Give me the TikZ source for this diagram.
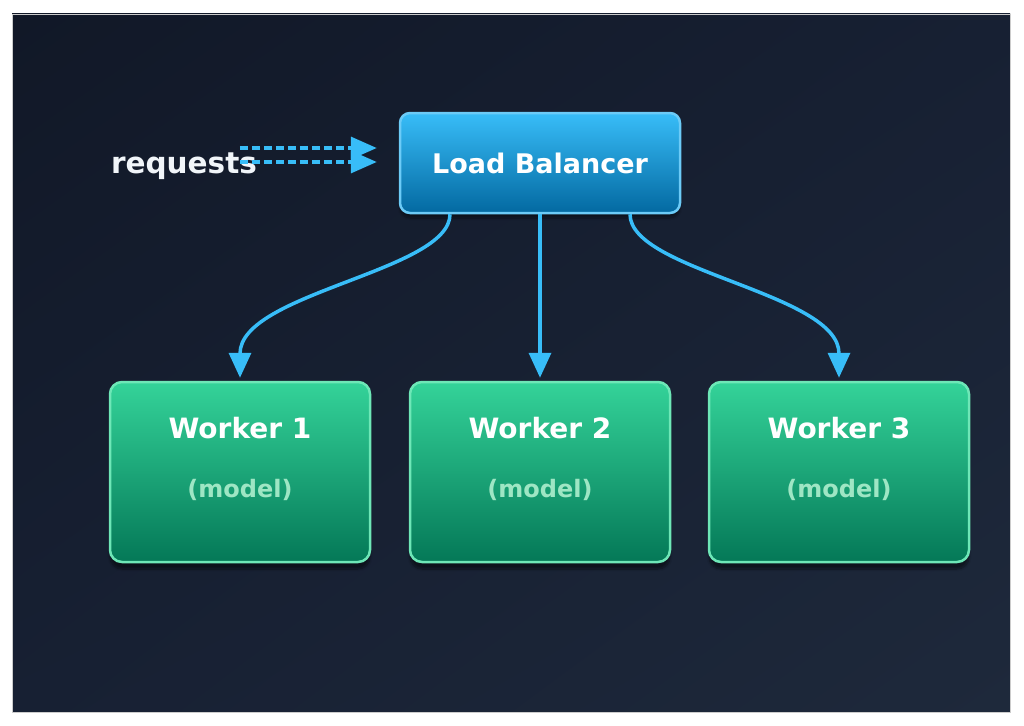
\documentclass[tikz,border=0pt]{standalone}
\usepackage{fontspec}
\setmainfont{DejaVu Sans}
\usetikzlibrary{arrows.meta,positioning,calc,shadings,shadows.blur}
\definecolor{bgtop}{HTML}{111827}
\definecolor{bgmid}{HTML}{172033}
\definecolor{bgbot}{HTML}{1E293B}
\definecolor{lbtop}{HTML}{38BDF8}
\definecolor{lbbot}{HTML}{0369A1}
\definecolor{lbline}{HTML}{6CCBF7}
\definecolor{wktop}{HTML}{34D399}
\definecolor{wkbot}{HTML}{047857}
\definecolor{wkline}{HTML}{6EE7B7}
\definecolor{modeltext}{HTML}{9EE6C4}
\definecolor{flowcol}{HTML}{38BDF8}
\definecolor{reqtext}{HTML}{F1F5F9}

\begin{document}
\begin{tikzpicture}[x=1pt, y=-1pt, every node/.style={font=\bfseries}]
\tikzset{lbbox/.style={draw=lbline, line width=2.5pt, rounded corners=10pt, top color=lbtop, bottom color=lbbot, minimum width=280pt, minimum height=100pt, text=white, font=\bfseries\fontsize{27}{32}\selectfont, blur shadow={shadow xshift=0pt, shadow yshift=-5pt, shadow opacity=40, shadow blur steps=10}}}
\tikzset{workbox/.style={draw=wkline, line width=2.5pt, rounded corners=12pt, top color=wktop, bottom color=wkbot, minimum width=260pt, minimum height=180pt, blur shadow={shadow xshift=0pt, shadow yshift=-7pt, shadow opacity=45, shadow blur steps=10}}}
\tikzset{worktitle/.style={text=white, font=\bfseries\fontsize{28}{32}\selectfont}}
\tikzset{worksub/.style={text=modeltext, font=\bfseries\fontsize{24}{28}\selectfont}}
\tikzset{flow/.style={draw=flowcol, line width=3.5pt, -{Triangle[length=25pt, width=22pt]}, shorten >=3pt}}
\tikzset{reqflow/.style={draw=flowcol, line width=3.5pt, dash pattern=on 8pt off 4pt, -{Triangle[length=26pt, width=22pt]}}}
\useasboundingbox (0,0) rectangle (1024,725);
% background panel
\shade[upper left=bgtop, upper right=bgmid, lower left=bgmid, lower right=bgbot] (12,14) rectangle (1010,712);
\draw[gray!40, line width=0.6pt] (12,14) rectangle (1010,712);
% nodes
\node[lbbox] (lb) at (540,163) {Load Balancer};
\node[workbox] (w1) at (240,472) {};
\node[workbox] (w2) at (540,472) {};
\node[workbox] (w3) at (839,472) {};
\foreach \w/\n in {w1/1, w2/2, w3/3} {
  \node[worktitle] (\w t) at ($(\w.north)+(0,47)$) {Worker \n};
  \node[worksub] (\w s) at ($(\w.north)+(0,109)$) {(model)};
}
\node[text=reqtext, font=\bfseries\fontsize{29.5}{34}\selectfont] (req) at (184,166) {requests};
\coordinate (r1a) at ($(lb.west)+(-159,-15)$);
\coordinate (r1b) at ($(lb.west)+(-22,-15)$);
\coordinate (r2a) at ($(lb.west)+(-159,-1)$);
\coordinate (r2b) at ($(lb.west)+(-22,-1)$);
% connectors
\draw[reqflow] (r1a) -- (r1b);
\draw[reqflow] (r2a) -- (r2b);
\draw[flow] ([xshift=-90pt]lb.south) .. controls +(0,57) and +(0,-88) .. (w1.north);
\draw[flow] (lb.south) -- (w2.north);
\draw[flow] ([xshift=90pt]lb.south) .. controls +(0,57) and +(0,-88) .. (w3.north);
\end{tikzpicture}
\end{document}
